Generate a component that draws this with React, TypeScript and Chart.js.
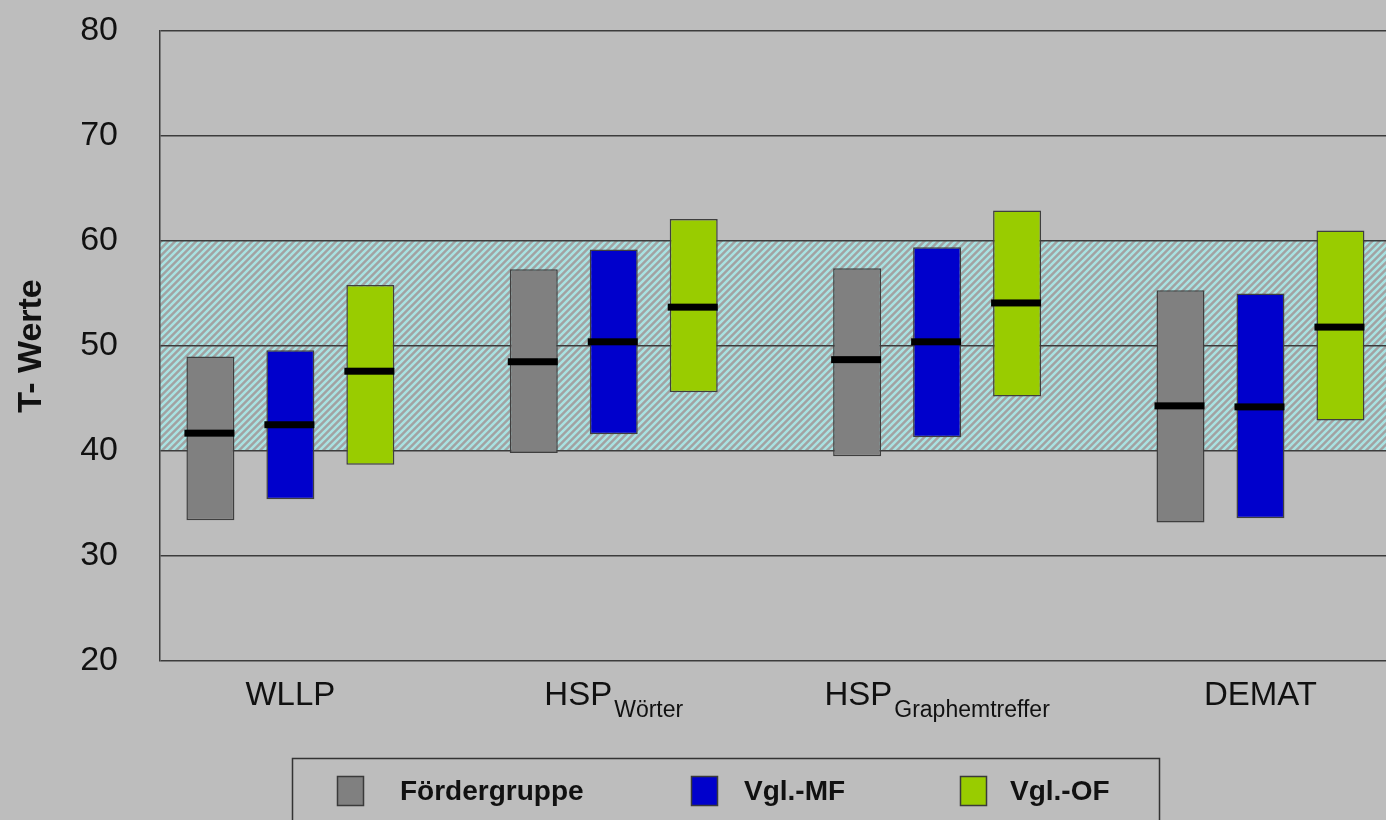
import React, { useEffect, useRef } from 'react';
import { Chart, registerables } from 'chart.js';

Chart.register(...registerables);

// ---- data ----
const categories = ['WLLP', 'HSP', 'HSP', 'DEMAT'];
const categorySubscripts = ['', 'Wörter', 'Graphemtreffer', ''];
const seriesLabels = ['Fördergruppe', 'Vgl.-MF', 'Vgl.-OF'];

const foerderLow = [33.4, 39.8, 39.5, 33.2];
const foerderHigh = [49.0, 57.3, 57.4, 55.3];
const foerderMean = [41.7, 48.5, 48.7, 44.3];

const mfLow = [35.4, 41.6, 41.3, 33.6];
const mfHigh = [49.6, 59.2, 59.4, 55.0];
const mfMean = [42.5, 50.4, 50.4, 44.2];

const ofLow = [38.7, 45.6, 45.2, 42.9];
const ofHigh = [55.8, 62.1, 62.9, 61.0];
const ofMean = [47.6, 53.7, 54.1, 51.8];

const yMin = 20;
const yMax = 80;
const yStep = 10;
const normBand = [40, 60];

const FONT = "'Liberation Sans', Arial, Helvetica, sans-serif";
const BG = '#bdbdbd';
const colors = ['#808080', '#0000cc', '#99cc00'];

function makeHatch(): CanvasPattern | string {
  const p = 7;
  const c = document.createElement('canvas');
  c.width = p;
  c.height = p;
  const g = c.getContext('2d');
  if (!g) return '#aacccc';
  g.fillStyle = '#a2a2a2';
  g.fillRect(0, 0, p, p);
  g.strokeStyle = '#a9e2e2';
  g.lineWidth = 2.5;
  g.beginPath();
  g.moveTo(0, p);
  g.lineTo(p, 0);
  g.moveTo(-2, 2);
  g.lineTo(2, -2);
  g.moveTo(p - 2, p + 2);
  g.lineTo(p + 2, p - 2);
  g.stroke();
  const pat = g.createPattern(c, 'repeat');
  return pat || '#aacccc';
}

export default function App() {
  const ref = useRef<HTMLCanvasElement | null>(null);

  useEffect(() => {
    const canvas = ref.current;
    if (!canvas) return;
    const hatch = makeHatch();

    const lows = [foerderLow, mfLow, ofLow];
    const highs = [foerderHigh, mfHigh, ofHigh];
    const means = [foerderMean, mfMean, ofMean];

    const datasets = seriesLabels.map((label, d) => ({
      label,
      data: categories.map((_, i) => ({ x: i, y: [lows[d][i], highs[d][i]] })),
      backgroundColor: colors[d],
      borderColor: '#3f3f3f',
      borderWidth: 1.5,
      borderSkipped: false,
      categoryPercentage: 0.742,
      barPercentage: 0.6,
      means: means[d],
    }));

    const backgroundPlugin = {
      id: 'bgBand',
      beforeDraw(chart: any) {
        const { ctx, chartArea } = chart;
        const ys = chart.scales.y;
        ctx.save();
        ctx.fillStyle = BG;
        ctx.fillRect(0, 0, chart.width, chart.height);
        const y1 = ys.getPixelForValue(normBand[1]);
        const y2 = ys.getPixelForValue(normBand[0]);
        ctx.fillStyle = hatch;
        ctx.fillRect(chartArea.left, y1, chartArea.right - chartArea.left, y2 - y1);
        ctx.restore();
      },
    };

    const meanPlugin = {
      id: 'meanLines',
      afterDatasetsDraw(chart: any) {
        const { ctx } = chart;
        const ys = chart.scales.y;
        ctx.save();
        ctx.fillStyle = '#000';
        chart.data.datasets.forEach((ds: any, d: number) => {
          const meta = chart.getDatasetMeta(d);
          meta.data.forEach((bar: any, i: number) => {
            const { x, width } = bar.getProps(['x', 'width'], true);
            const y = ys.getPixelForValue(ds.means[i]);
            ctx.fillRect(x - width / 2 - 2, y - 3.5, width + 2, 7);
          });
        });
        ctx.restore();
      },
    };

    const labelsPlugin = {
      id: 'xLabelsLegend',
      afterDraw(chart: any) {
        const { ctx, chartArea } = chart;
        const xs = chart.scales.x;
        ctx.save();
        ctx.fillStyle = '#111';
        ctx.textBaseline = 'alphabetic';
        ctx.textAlign = 'left';
        const mainFont = `33px ${FONT}`;
        const subFont = `23px ${FONT}`;
        categories.map((cat, i) => {
          const cx = xs.getPixelForValue(i);
          ctx.font = mainFont;
          const wm = ctx.measureText(cat).width;
          const sub = categorySubscripts[i];
          ctx.font = subFont;
          const wsub = sub ? ctx.measureText(sub).width + 2 : 0;
          const start = cx - (wm + wsub) / 2;
          ctx.font = mainFont;
          ctx.fillText(cat, start, chartArea.bottom + 44);
          if (sub) {
            ctx.font = subFont;
            ctx.fillText(sub, start + wm + 2, chartArea.bottom + 56);
          }
        });

        // legend box
        const boxLeft = 292.5;
        const boxTop = 758.5;
        ctx.strokeStyle = '#333';
        ctx.lineWidth = 1.5;
        ctx.strokeRect(boxLeft, boxTop, 867, 120);
        const swatchX = [337, 691, 960];
        const textX = [400, 744, 1010];
        chart.data.datasets.forEach((ds: any, d: number) => {
          ctx.fillStyle = ds.backgroundColor;
          ctx.fillRect(swatchX[d], 776, 27, 30);
          ctx.strokeStyle = '#3a3a3a';
          ctx.lineWidth = 1.5;
          ctx.strokeRect(swatchX[d] + 0.5, 776.5, 26, 29);
          ctx.fillStyle = '#111';
          ctx.font = `bold 28px ${FONT}`;
          ctx.fillText(ds.label, textX[d], 800);
        });
        ctx.restore();
      },
    };

    const chart = new Chart(canvas, {
      type: 'bar',
      data: { datasets: datasets as any },
      options: {
        animation: false,
        responsive: false,
        devicePixelRatio: 1,
        layout: { padding: { top: 31, bottom: 159, left: 0, right: 0 } },
        plugins: {
          legend: { display: false },
          tooltip: { enabled: false },
          title: { display: false },
        },
        scales: {
          x: {
            type: 'linear',
            display: false,
            offset: false,
            grid: { offset: false },
            min: -0.4032,
            max: 3.648,
            afterBuildTicks: (s: any) => {
              s.ticks = categories.map((_, i) => ({ value: i }));
            },
          },
          y: {
            min: yMin,
            max: yMax,
            ticks: {
              stepSize: yStep,
              padding: 42,
              color: '#111',
              font: { family: FONT, size: 34 },
            },
            grid: { color: '#3c3c3c', lineWidth: 1.5, drawTicks: false },
            border: { display: true, color: '#3c3c3c', width: 1.5 },
            title: {
              display: true,
              text: 'T- Werte',
              color: '#111',
              font: { family: FONT, size: 34, weight: 'bold' },
              padding: { top: 11, bottom: 0 },
            },
            afterFit: (s: any) => {
              s.width = 160;
              s.paddingTop = 0;
              s.paddingBottom = 0;
            },
          },
        },
      } as any,
      plugins: [backgroundPlugin, meanPlugin, labelsPlugin],
    });

    return () => chart.destroy();
  }, []);

  return (
    <div
      style={{
        position: 'fixed',
        left: 0,
        top: 0,
        width: 1386,
        height: 820,
        overflow: 'hidden',
        background: BG,
      }}
    >
      <canvas ref={ref} width={1470} height={820} style={{ display: 'block' }} />
    </div>
  );
}
